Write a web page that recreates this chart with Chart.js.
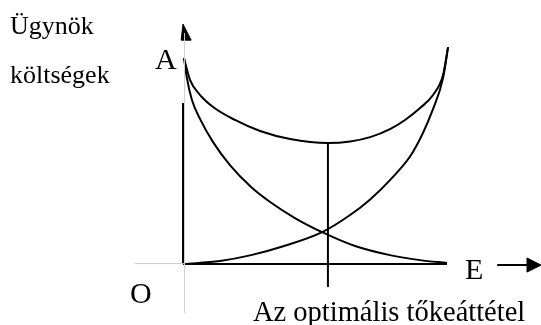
<!DOCTYPE html>
<html>
<head>
<meta charset="utf-8">
<script src="https://cdn.jsdelivr.net/npm/chart.js@4/dist/chart.umd.min.js"></script>
<style>
html,body{margin:0;padding:0;background:#fff;}
#wrap{width:541px;height:325px;position:relative;}
</style>
</head>
<body>
<div id="wrap"><canvas id="c" width="541" height="325"></canvas></div>
<script>
// Total agency cost (U-shaped)
const totalX = [0, 0.23, 0.61, 1.10, 1.93, 2.88, 4.02, 5.45, 6.29, 7.05, 7.80, 8.37, 8.94, 9.43, 9.81, 10];
const totalY = [9.49, 8.48, 7.79, 7.24, 6.64, 6.13, 5.76, 5.58, 5.65, 5.85, 6.22, 6.64, 7.19, 7.79, 8.71, 10];
// Decreasing cost curve
const downX = [0, 0.11, 0.30, 0.61, 1.10, 1.74, 2.54, 3.26, 4.20, 5.23, 6.48, 7.80, 8.94, 9.96];
const downY = [9.49, 8.57, 7.56, 6.68, 5.62, 4.56, 3.55, 2.86, 2.12, 1.47, 0.83, 0.41, 0.18, 0.05];
// Increasing cost curve
const upX = [0, 1.36, 2.54, 3.79, 5.23, 6.29, 7.05, 7.80, 8.67, 9.43, 9.81, 10];
const upY = [0, 0.14, 0.41, 0.83, 1.47, 2.26, 2.98, 3.87, 5.16, 7.14, 8.57, 10];
// Optimum
const optimumX = 5.45;
const optimumY = 5.58;
// Labels
const yTitle = ['Ügynök', 'költségek'];
const xTitle = 'Az optimális tőkeáttétel';
const pointLabels = ['A', 'O', 'E'];

const pts = (xs, ys) => xs.map((x, i) => ({x: x, y: ys[i]}));

const curve = (data) => ({
  data: data, borderColor: '#000', borderWidth: 2, pointRadius: 0,
  cubicInterpolationMode: 'monotone', fill: false, clip: false
});
const seg = (data, color, w) => ({
  data: data, borderColor: color, borderWidth: w, pointRadius: 0,
  tension: 0, fill: false, clip: false
});
const head = (data) => ({
  data: data, borderColor: '#000', borderWidth: 1, backgroundColor: '#000',
  pointRadius: 0, tension: 0, fill: 'shape', clip: false
});

const textPlugin = {
  id: 'texts',
  afterDraw(chart) {
    const ctx = chart.ctx;
    ctx.save();
    ctx.fillStyle = '#000';
    ctx.textBaseline = 'alphabetic';
    ctx.font = '26px "Liberation Serif"';
    ctx.fillText(yTitle[0], 10, 34);
    ctx.fillText(yTitle[1], 10, 83);
    ctx.font = '30px "Liberation Serif"';
    ctx.fillText(pointLabels[0], 155, 69);
    ctx.fillText(pointLabels[1], 130, 303);
    ctx.fillText(pointLabels[2], 465, 279);
    ctx.font = '28.5px "Liberation Serif"';
    ctx.fillText(xTitle, 253, 321);
    ctx.restore();
  }
};

new Chart(document.getElementById('c'), {
  type: 'line',
  data: {
    datasets: [
      seg([{x: 0.02, y: -2.26}, {x: 0.02, y: 10.65}], '#d0d0d0', 1),
      seg([{x: -1.86, y: 0.02}, {x: 0.02, y: 0.02}], '#c8c8c8', 1),
      seg([{x: -0.04, y: 0}, {x: 9.96, y: 0}], '#000', 2),
      seg([{x: -0.04, y: 0}, {x: -0.04, y: 7.42}], '#000', 2),
      seg([{x: optimumX, y: -1.06}, {x: optimumX, y: optimumY}], '#000', 2),
      seg([{x: 11.86, y: -0.05}, {x: 13.1, y: -0.05}], '#000', 2),
      head([{x: -0.11, y: 10.32}, {x: -0.04, y: 11.06}, {x: 0.27, y: 10.32}, {x: -0.11, y: 10.32}]),
      head([{x: 12.99, y: 0.28}, {x: 13.52, y: -0.05}, {x: 12.99, y: -0.37}, {x: 12.99, y: 0.28}]),
      curve(pts(totalX, totalY)),
      curve(pts(downX, downY)),
      curve(pts(upX, upY))
    ]
  },
  options: {
    responsive: false,
    animation: false,
    layout: {padding: 0},
    plugins: {legend: {display: false}, tooltip: {enabled: false}},
    scales: {
      x: {type: 'linear', display: false, min: -6.97, max: 13.52},
      y: {type: 'linear', display: false, min: -2.81, max: 12.17}
    }
  },
  plugins: [textPlugin]
});
</script>
</body>
</html>
